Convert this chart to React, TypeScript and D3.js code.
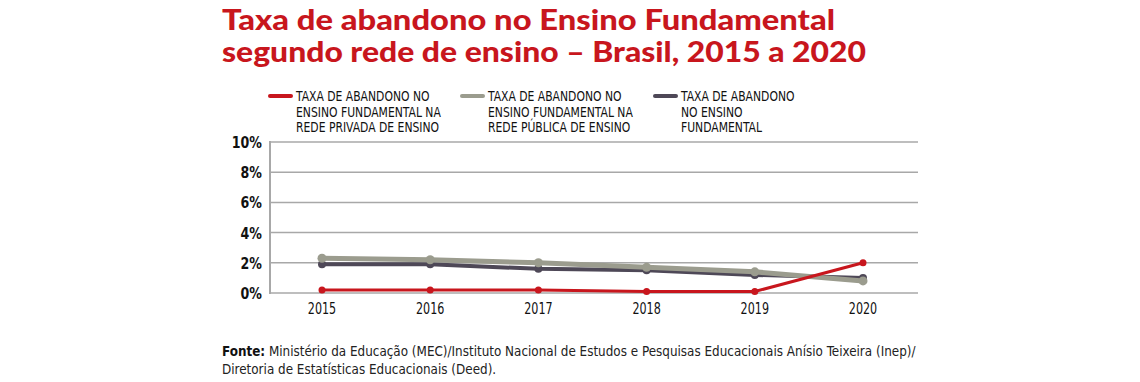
import React from "react";
import * as d3 from "d3";

const years = [2015, 2016, 2017, 2018, 2019, 2020];
const privada = [0.2, 0.2, 0.2, 0.1, 0.1, 2.0];
const publica = [2.3, 2.2, 2.0, 1.7, 1.4, 0.8];
const total = [1.9, 1.9, 1.6, 1.5, 1.2, 1.0];
const yTicks = [0, 2, 4, 6, 8, 10];
const titleLines = [
  "Taxa de abandono no Ensino Fundamental",
  "segundo rede de ensino – Brasil, 2015 a 2020",
];
const legendItems = [
  { lines: ["TAXA DE ABANDONO NO", "ENSINO FUNDAMENTAL NA", "REDE PRIVADA DE ENSINO"], color: "#c8161d" },
  { lines: ["TAXA DE ABANDONO NO", "ENSINO FUNDAMENTAL NA", "REDE PÚBLICA DE ENSINO"], color: "#9b9c8e" },
  { lines: ["TAXA DE ABANDONO", "NO ENSINO", "FUNDAMENTAL"], color: "#4e4857" },
];

const condensed = "'DejaVu Sans Condensed', 'DejaVu Sans', sans-serif";

function CText(props: {
  x: number; y: number; sx: number; size: number; weight?: number; anchor?: string; fill?: string; children: React.ReactNode;
}) {
  const { x, y, sx, size, weight = 400, anchor = "start", fill = "#111", children } = props;
  return (
    <g transform={`translate(${x},${y}) scale(${sx},1)`}>
      <text x={0} y={0} textAnchor={anchor as any} fontFamily={condensed} fontWeight={weight} fontSize={size} fill={fill}>
        {children}
      </text>
    </g>
  );
}

export default function App() {
  const W = 1140, H = 382;
  const x = d3.scalePoint<number>().domain(years).range([322, 863]);
  const y = d3.scaleLinear().domain([0, 10]).range([293, 142]);
  const line = d3.line<number>().x((_, i) => x(years[i])!).y((d) => y(d));
  const series = [
    { data: total, color: "#4e4857", w: 4 },
    { data: publica, color: "#9b9c8e", w: 5 },
    { data: privada, color: "#c8161d", w: 3 },
  ];
  const legendX = [270, 462, 655];
  const titleLens = [613, 644];
  return (
    <svg width={W} height={H} style={{ position: "absolute", left: 0, top: 0, background: "#fff" }}>
      {titleLines.map((t, i) => (
        <text key={i} x={222} y={30 + i * 32} fill="#c8161d" fontFamily="Lato, 'Open Sans', sans-serif" fontWeight={900}
          fontSize={29} textLength={titleLens[i]} lengthAdjust="spacingAndGlyphs">
          {t}
        </text>
      ))}
      {legendItems.map((it, i) => (
        <g key={i}>
          <line x1={legendX[i]} x2={legendX[i] + 21} y1={96} y2={96} stroke={it.color} strokeWidth={4} strokeLinecap="round" />
          {it.lines.map((l, j) => (
            <CText key={j} x={legendX[i] + 26} y={101 + j * 15.5} sx={0.89} size={13.5}>
              {l}
            </CText>
          ))}
        </g>
      ))}
      {yTicks.map((t) => (
        <g key={t}>
          <line x1={270} x2={918} y1={y(t)} y2={y(t)} stroke="#a8a8a8" strokeWidth={1.5} />
          <CText x={262} y={y(t) + 6} sx={0.85} size={16.5} weight={700} anchor="end">
            {t}%
          </CText>
        </g>
      ))}
      <line x1={270} x2={270} y1={141} y2={294} stroke="#a8a8a8" strokeWidth={2} />
      {years.map((yr) => (
        <CText key={yr} x={x(yr)!} y={314} sx={0.8} size={15.5} anchor="middle">
          {yr}
        </CText>
      ))}
      {series.map((s, i) => (
        <g key={i}>
          <path d={line(s.data)!} fill="none" stroke={s.color} strokeWidth={s.w} strokeLinejoin="round" />
          {s.data.map((v, j) => (
            <circle key={j} cx={x(years[j])} cy={y(v)} r={s.w / 2 + 2} fill={s.color} />
          ))}
        </g>
      ))}
      <g transform="translate(222,356) scale(0.92,1)">
        <text x={0} y={0} fontFamily={condensed} fontSize={14.5} fill="#222">
          <tspan fontWeight={700} fill="#111">Fonte:</tspan>
          <tspan> Ministério da Educação (MEC)/Instituto Nacional de Estudos e Pesquisas Educacionais Anísio Teixeira (Inep)/</tspan>
        </text>
      </g>
      <CText x={222} y={374} sx={0.92} size={14.5} fill="#222">
        Diretoria de Estatísticas Educacionais (Deed).
      </CText>
    </svg>
  );
}
